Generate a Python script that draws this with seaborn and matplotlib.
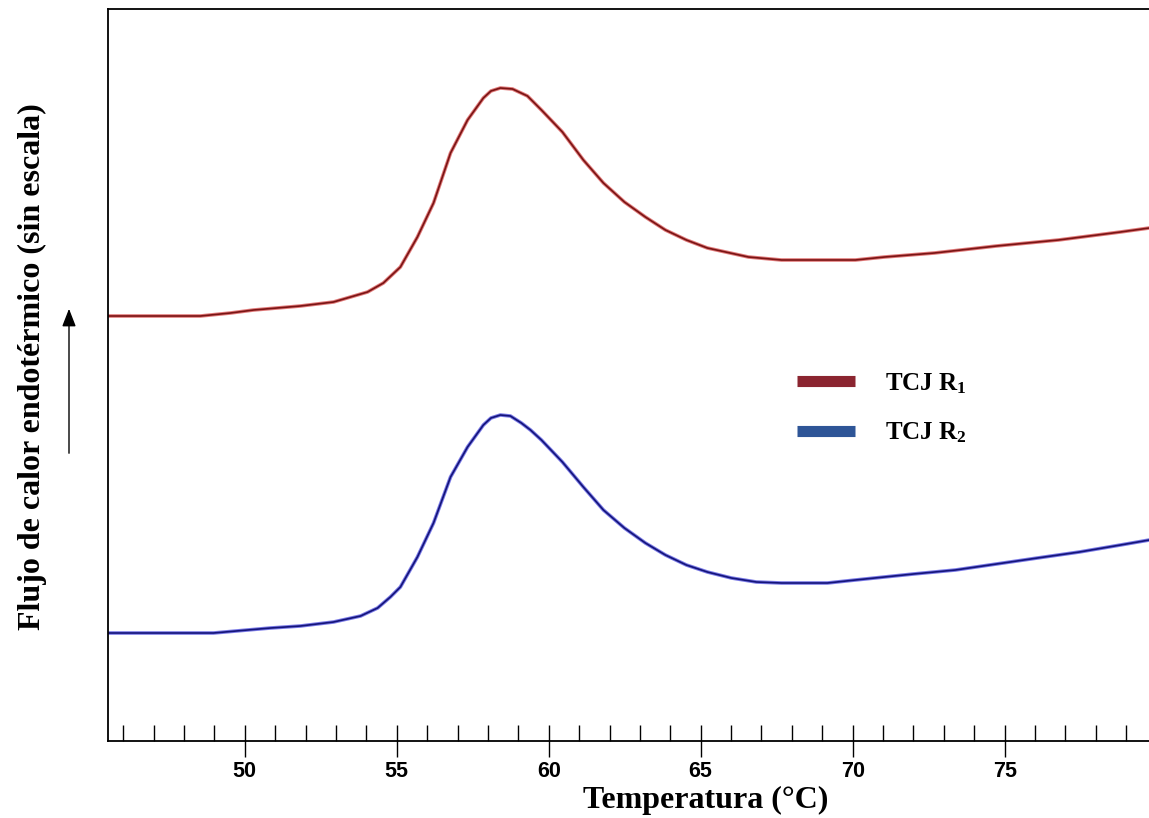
import numpy as np
import pandas as pd
import seaborn as sns
import matplotlib.pyplot as plt
from matplotlib.lines import Line2D
from matplotlib.ticker import MultipleLocator

# %% data (arbitrary heat-flow units)
temp_r1 = [45.52, 48.54, 49.53, 50.29, 51.83, 52.92, 54.04, 54.56, 55.12, 55.68,
           56.21, 56.77, 57.33, 57.85, 58.10, 58.41, 58.81, 59.30, 59.76, 60.45,
           61.14, 61.80, 62.49, 63.18, 63.84, 64.53, 65.22, 66.57, 67.66, 70.09,
           71.05, 72.69, 74.73, 76.77, 78.81, 79.76]
flow_r1 = [425, 425, 428, 431, 435, 439, 449, 458, 474, 504,
           538, 588, 621, 643, 650, 653, 652, 645, 631, 609,
           581, 558, 539, 524, 511, 501, 493, 484, 481, 481,
           484, 488, 495, 501, 509, 513]

temp_r2 = [45.52, 48.97, 50.09, 50.85, 51.83, 52.92, 53.81, 54.37, 54.79, 55.12,
           55.68, 56.21, 56.77, 57.33, 57.85, 58.10, 58.41, 58.74, 59.10, 59.40,
           59.76, 60.45, 61.14, 61.80, 62.49, 63.18, 63.84, 64.53, 65.22, 66.01,
           66.83, 67.66, 69.17, 70.09, 72.00, 73.38, 74.73, 76.08, 77.46, 78.81,
           79.76]
flow_r2 = [108, 108, 111, 113, 115, 119, 125, 133, 144, 154,
           184, 218, 264, 294, 316, 323, 326, 325, 318, 311,
           301, 279, 254, 231, 213, 198, 186, 176, 169, 163,
           159, 158, 158, 161, 167, 171, 177, 183, 189, 196,
           201]

labels = [r"TCJ R$_1$", r"TCJ R$_2$"]
legend_colors = ["#8b2530", "#2e5597"]

df1 = pd.DataFrame({"T": temp_r1, "flow": flow_r1})
df2 = pd.DataFrame({"T": temp_r2, "flow": flow_r2})

# %% plot
sns.set_theme(style="ticks")
plt.rcParams["font.family"] = ["Liberation Serif", "DejaVu Serif"]
plt.rcParams.update({
    "text.color": "black",
    "axes.labelcolor": "black",
    "xtick.color": "black",
    "mathtext.fontset": "custom",
    "mathtext.rm": "Liberation Serif:bold",
    "mathtext.it": "Liberation Serif:bold",
    "mathtext.bf": "Liberation Serif:bold",
})

fig = plt.figure(figsize=(11.49, 8.18), dpi=100)
ax = fig.add_axes([108 / 1149, 77 / 818, 1041 / 1149, 732 / 818])

# two-tone lines like the instrument output
sns.lineplot(data=df1, x="T", y="flow", color="#e07a7a", lw=2.6, ax=ax)
sns.lineplot(data=df1, x="T", y="flow", color="#7a1414", lw=1.2, ax=ax)
sns.lineplot(data=df2, x="T", y="flow", color="#7a7ae6", lw=2.6, ax=ax)
sns.lineplot(data=df2, x="T", y="flow", color="#14147a", lw=1.2, ax=ax)

ax.set_xlim(45.5, 79.75)
ax.set_ylim(0, 732)
ax.set_yticks([])

ax.xaxis.set_major_locator(MultipleLocator(5))
ax.xaxis.set_minor_locator(MultipleLocator(1))
ax.tick_params(axis="x", which="major", direction="inout", length=23, width=1.0,
               pad=3, labelsize=15.5, colors="black")
ax.tick_params(axis="x", which="minor", direction="in", length=11.3, width=1.0,
               colors="black")
for lab in ax.get_xticklabels():
    lab.set_fontfamily(["Liberation Sans", "DejaVu Sans"])
    lab.set_fontweight("bold")

for side in ["left", "top", "bottom"]:
    ax.spines[side].set_linewidth(1.3)
    ax.spines[side].set_color("black")
ax.spines["right"].set_visible(False)

ax.set_xlabel("Temperatura (°C)", fontsize=23, fontweight="bold")
ax.xaxis.set_label_coords(0.574, -0.062)
ax.set_ylabel("Flujo de calor endotérmico (sin escala)", fontsize=23, fontweight="bold")
ax.yaxis.set_label_coords(-0.059, 0.512)

# arrow beside the y label
ax.annotate("", xy=(69 / 1149, 1 - 306 / 818), xytext=(69 / 1149, 1 - 456 / 818),
            xycoords="figure fraction", textcoords="figure fraction",
            arrowprops=dict(arrowstyle="-|>,head_length=0.9,head_width=0.35",
                            color="black", lw=1.0))

handles = [Line2D([0], [0], color=c, lw=8, solid_capstyle="butt") for c in legend_colors]
leg = ax.legend(handles, labels, loc="center left", bbox_to_anchor=(0.64, 0.4545),
                frameon=False, handlelength=2.35, handletextpad=1.2, labelspacing=1.0,
                prop={"family": "Liberation Serif", "weight": "bold", "size": 18})

fig.savefig("out.png", dpi=100)
